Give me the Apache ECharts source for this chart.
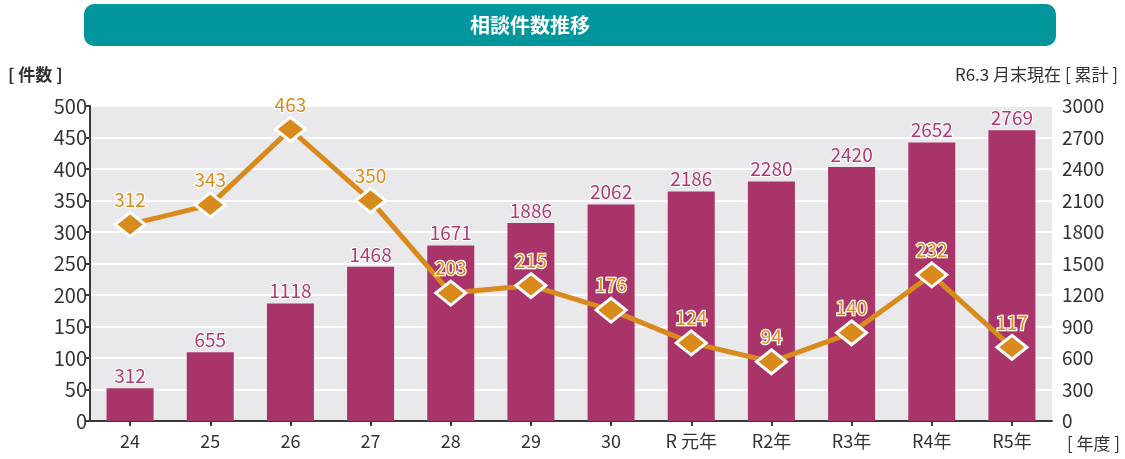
<!DOCTYPE html>
<html>
<head>
<meta charset="utf-8">
<script src="https://cdn.jsdelivr.net/npm/echarts@6/dist/echarts.min.js"></script>
<style>
  html, body { margin: 0; padding: 0; background: #fff; }
  #chart { width: 1125px; height: 459px; }
</style>
</head>
<body>
<div id="chart"></div>
<script>
// 年度
var years = ['24', '25', '26', '27', '28', '29', '30', 'R 元年', 'R2年', 'R3年', 'R4年', 'R5年'];
// 累計（棒）
var totals = [312, 655, 1118, 1468, 1671, 1886, 2062, 2186, 2280, 2420, 2652, 2769];
// 件数（折れ線）
var counts = [312, 343, 463, 350, 203, 215, 176, 124, 94, 140, 232, 117];

var font = '"Noto Sans CJK JP", "Noto Sans", sans-serif';
var orange = '#d98a1c';
var maroon = '#a8346a';

var myChart = echarts.init(document.getElementById('chart'));
var option = {
  animation: false,
  textStyle: { fontFamily: font },
  graphic: [
    {
      type: 'rect',
      shape: { x: 84, y: 4, width: 972, height: 42, r: 10 },
      style: { fill: '#00969b' }
    },
    {
      type: 'text',
      x: 530, y: 25,
      style: {
        text: '相談件数推移', fill: '#fff', font: 'bold 20px ' + font,
        textAlign: 'center', textVerticalAlign: 'middle'
      }
    },
    {
      type: 'text',
      x: 8, y: 75,
      style: { text: '[ 件数 ]', fill: '#333', font: 'bold 17px ' + font, textVerticalAlign: 'middle' }
    },
    {
      type: 'text',
      x: 1118, y: 75,
      style: { text: 'R6.3 月末現在 [ 累計 ]', fill: '#333', font: '17px ' + font, textAlign: 'right', textVerticalAlign: 'middle' }
    },
    {
      type: 'text',
      x: 1120, y: 444,
      style: { text: '[ 年度 ]', fill: '#333', font: '17px ' + font, textAlign: 'right', textVerticalAlign: 'middle' }
    }
  ],
  grid: {
    left: 90,
    top: 106,
    right: 73,
    bottom: 38,
    show: true,
    backgroundColor: '#e9e9ec',
    borderWidth: 0
  },
  xAxis: [{
    type: 'category',
    data: years,
    axisLine: { show: true, lineStyle: { color: '#3a3a3a', width: 2 } },
    axisTick: { show: true, alignWithLabel: true, length: 5, lineStyle: { color: '#3a3a3a', width: 2 } },
    axisLabel: { color: '#333', fontSize: 18, margin: 11 }
  }],
  yAxis: [{
    type: 'value',
    min: 0,
    max: 500,
    interval: 50,
    axisLine: { show: true, lineStyle: { color: '#3a3a3a', width: 2 } },
    axisTick: { show: true, length: 5, lineStyle: { color: '#3a3a3a', width: 2 } },
    axisLabel: { color: '#333', fontSize: 20, margin: 3 },
    splitLine: { show: true, lineStyle: { color: '#ffffff', width: 2 } }
  }, {
    type: 'value',
    min: 0,
    max: 3000,
    interval: 300,
    position: 'right',
    axisLine: { show: false },
    axisTick: { show: false },
    axisLabel: {
      color: '#333', fontSize: 19, margin: 10,
      formatter: function (value) {
        return String(value);
      }
    },
    splitLine: { show: false }
  }],
  series: [{
    type: 'bar',
    yAxisIndex: 1,
    data: totals,
    barWidth: 47,
    itemStyle: { color: maroon },
    label: {
      show: true,
      position: 'top',
      distance: 3,
      color: '#b13a72',
      fontSize: 19,
      textBorderColor: '#fff',
      textBorderWidth: 2
    },
    z: 2
  }, {
    type: 'line',
    yAxisIndex: 0,
    data: counts,
    lineStyle: { color: orange, width: 5 },
    symbol: 'diamond',
    symbolSize: [30, 24],
    itemStyle: { color: orange, borderColor: '#fff', borderWidth: 3 },
    label: {
      show: true,
      position: 'top',
      distance: 2,
      color: orange,
      fontSize: 19,
      textBorderColor: '#fff',
      textBorderWidth: 2.5
    },
    z: 3
  }]
};
myChart.setOption(option);
</script>
</body>
</html>
